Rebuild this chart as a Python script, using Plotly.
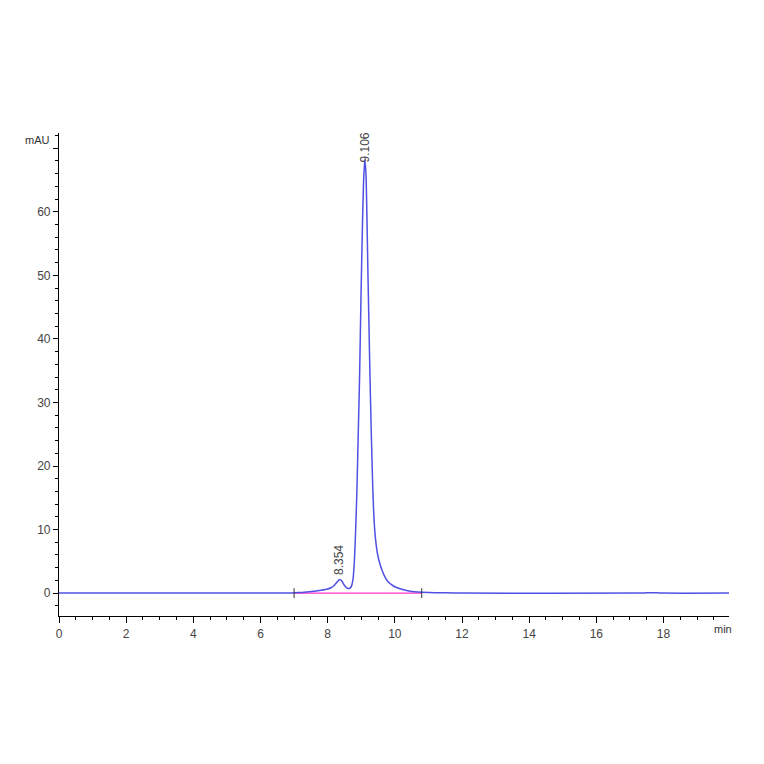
import plotly.graph_objects as go

# chromatogram trace (time in min, signal in mAU)
time_min = [0.0, 6.9, 7.0, 7.3, 7.6, 7.8, 8.0, 8.1, 8.2, 8.28, 8.354, 8.42, 8.5, 8.58, 8.64,
            8.70, 8.75, 8.79, 8.83, 8.87, 8.91, 8.95, 8.99, 9.03, 9.07, 9.106, 9.14, 9.17,
            9.20, 9.23, 9.26, 9.30, 9.34, 9.37, 9.40, 9.44, 9.49, 9.55, 9.62, 9.70, 9.80,
            9.90, 10.0, 10.2, 10.45, 10.8, 11.5, 12.0, 17.3, 17.5, 17.8, 18.0, 19.95]
signal_mau = [0.0, 0.0, 0.05, 0.15, 0.3, 0.45, 0.65, 0.85, 1.25, 1.75, 2.15, 1.9, 1.2, 0.8, 0.72,
              1.0, 2.0, 4.5, 9.5, 16.0, 25.0, 34.0, 46.0, 56.5, 65.0, 68.2, 66.0, 59.0,
              50.0, 42.0, 34.0, 25.0, 17.0, 12.8, 10.0, 7.8, 6.0, 4.7, 3.6, 2.6, 1.8,
              1.35, 1.0, 0.6, 0.3, 0.15, 0.05, 0.0, 0.0, 0.05, 0.05, 0.0, 0.0]

# integration baseline
baseline_t = [7.0, 10.8]
baseline_y = [0.0, 0.0]

# peak labels
peak_t = [8.354, 9.106]
peak_h = [2.15, 68.2]
peak_labels = ["8.354", "9.106"]
label_shift = [2, -5]

y_ticks = [0, 10, 20, 30, 40, 50, 60, 70]
y_ticklabels = ["0", "10", "20", "30", "40", "50", "60", ""]
x_ticks = [0, 2, 4, 6, 8, 10, 12, 14, 16, 18]

fig = go.Figure()
fig.add_trace(go.Scatter(x=baseline_t, y=baseline_y, mode="lines",
                         line=dict(color="#ff33cc", width=1.4)))
fig.add_trace(go.Scatter(x=time_min, y=signal_mau, mode="lines",
                         line=dict(color="#5050e4", width=1.5, shape="spline", smoothing=0.6)))
# start / end markers of the integration
fig.add_trace(go.Scatter(x=baseline_t, y=baseline_y, mode="markers",
                         marker=dict(symbol="line-ns", size=7, line=dict(color="#333", width=1))))

for t, h, lab, s in zip(peak_t, peak_h, peak_labels, label_shift):
    fig.add_annotation(x=t, y=h, text=lab, showarrow=False, textangle=-90,
                       yanchor="bottom", yshift=s, font=dict(size=12, color="#444"))

fig.add_annotation(x=0, y=71.3, text="mAU", showarrow=False, xanchor="right", xshift=-7,
                   font=dict(size=11, color="#333"))
fig.add_annotation(x=19.95, y=-3.6, text="min", showarrow=False, yanchor="top", xanchor="center",
                   xshift=-6, yshift=-5, font=dict(size=11, color="#333"))

fig.update_layout(
    width=764, height=764,
    margin=dict(l=51, r=43, t=125, b=156),
    paper_bgcolor="white", plot_bgcolor="white",
    showlegend=False,
    font=dict(family="Liberation Sans, Arial, sans-serif", size=12, color="#444"),
    xaxis=dict(range=[0, 19.95], tickvals=x_ticks, showgrid=False, zeroline=False,
               showline=True, linecolor="black", linewidth=1.2,
               ticks="outside", ticklen=6, tickcolor="black",
               minor=dict(dtick=0.5, tick0=0, ticks="outside", ticklen=3, tickcolor="black")),
    yaxis=dict(range=[-3.6, 72.4], tickvals=y_ticks, ticktext=y_ticklabels, showgrid=False,
               zeroline=False, showline=True, linecolor="black", linewidth=1.2,
               ticks="outside", ticklen=5, tickcolor="black",
               minor=dict(dtick=2, tick0=0, ticks="outside", ticklen=3, tickcolor="black")),
)

fig.write_html("out.html")
